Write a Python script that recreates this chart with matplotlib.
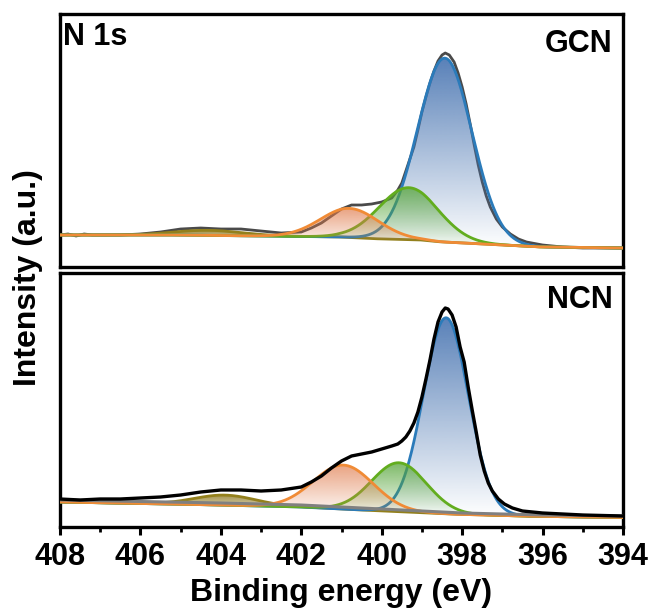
import numpy as np
import matplotlib.pyplot as plt
from matplotlib.colors import to_rgb
from matplotlib.ticker import MultipleLocator

plt.rcParams['font.family'] = ['Liberation Sans', 'DejaVu Sans']
plt.rcParams['font.weight'] = 'bold'

# GCN: measured N 1s spectrum (binding energy in eV, counts in a.u.)
gcn_be = [408.0, 407.8, 407.6, 407.4, 407.2, 407.0, 406.5, 406.0, 405.5, 405.0,
          404.5, 404.0, 403.5, 403.0, 402.5, 402.0, 401.75, 401.5, 401.25, 401.0,
          400.75, 400.5, 400.25, 400.0, 399.75, 399.6, 399.5, 399.4, 399.3, 399.2,
          399.1, 399.0, 398.9, 398.8, 398.7, 398.6, 398.5, 398.42, 398.32, 398.2,
          398.1, 398.0, 397.9, 397.8, 397.7, 397.6, 397.5, 397.4, 397.3, 397.15,
          397.0, 396.8, 396.6, 396.4, 396.0, 395.5, 395.0, 394.5, 394.0]
gcn_int = [32, 33, 31, 33, 32, 32, 32, 33, 35, 38,
           39, 38, 38, 36, 34, 35, 39, 44, 51, 58,
           62, 62, 63, 65, 69, 77, 84, 96, 108, 120,
           137, 155, 170, 184, 196, 206, 212, 214, 212, 205,
           194, 180, 163, 143, 122, 102, 85, 71, 60, 48,
           40, 33, 28, 25, 22, 20, 19, 19, 19]
# GCN: Shirley background
gcn_bg_be = [408.0, 405.0, 403.0, 401.0, 400.0, 399.0, 398.5, 398.0, 397.0, 396.0, 394.0]
gcn_bg = [32, 32, 31, 30, 28, 27, 25, 24, 22, 20, 19]
# GCN: fitted components (pi excitation, C-N=C, N-(C)3, C-N-H)
gcn_center = [404.3, 398.43, 399.33, 400.80]
gcn_fwhm = [2.0, 1.59, 1.74, 1.70]
gcn_height = [5, 184, 52, 29]

# NCN: measured N 1s spectrum
ncn_be = [408.0, 407.5, 407.0, 406.5, 406.0, 405.5, 405.0, 404.5, 404.0, 403.5,
          403.0, 402.5, 402.0, 401.75, 401.5, 401.25, 401.0, 400.75, 400.5, 400.25,
          400.0, 399.75, 399.6, 399.5, 399.4, 399.3, 399.2, 399.1, 399.0, 398.9,
          398.8, 398.7, 398.6, 398.5, 398.42, 398.35, 398.25, 398.15, 398.05, 397.95,
          397.85, 397.75, 397.65, 397.55, 397.45, 397.35, 397.25, 397.1, 396.95, 396.75,
          396.5, 396.0, 395.0, 394.0]
ncn_int = [28, 27, 28, 28, 29, 30, 32, 35, 37, 37,
           36, 37, 40, 45, 51, 59, 66, 71, 73, 75,
           78, 81, 83, 86, 90, 96, 104, 115, 130, 148,
           167, 188, 205, 215, 219, 218, 212, 200, 180, 165,
           140, 117, 95, 72, 56, 44, 36, 28, 23, 19,
           16, 14, 12, 11]
# NCN: background lines
ncn_bg_be = [408.0, 404.0, 402.0, 400.0, 398.0, 396.0, 394.0]
ncn_bg = [27, 24, 22, 18, 14, 12, 11]
ncn_fit_bg = [25, 22, 20, 16, 12.5, 10.5, 9.5]
# NCN: fitted components
ncn_center = [403.9, 398.40, 399.57, 400.95]
ncn_fwhm = [1.8, 1.32, 1.60, 1.75]
ncn_height = [10, 196, 49, 44]

line_colors = ['#93801c', '#2b7bba', '#62ad1e', '#f08b36']
fill_colors = ['#8a7417', '#4a76b2', '#56a53a', '#e07a4a']
fill_alpha = [0.8, 0.92, 0.78, 0.7]

energy = np.linspace(394, 408, 1401)


def gauss(x, c, fwhm, h):
    s = fwhm / 2.3548
    return h * np.exp(-0.5 * ((x - c) / s) ** 2)


def gradient_fill(ax, x, lo, hi, color, alpha, z):
    poly = ax.fill_between(x, lo, hi, facecolor='none', edgecolor='none', zorder=z)
    img = np.zeros((256, 1, 4))
    img[..., :3] = to_rgb(color)
    img[:, 0, 3] = np.linspace(0.0, alpha, 256)
    im = ax.imshow(img, origin='lower', aspect='auto', interpolation='bilinear',
                   extent=[x.min(), x.max(), lo.min(), hi.max()], zorder=z)
    im.set_clip_path(poly.get_paths()[0], transform=ax.transData)


def draw_components(ax, base, centers, fwhms, heights, z0=3):
    for i, (c, w, h) in enumerate(zip(centers, fwhms, heights)):
        comp = base + gauss(energy, c, w, h)
        gradient_fill(ax, energy, base, comp, fill_colors[i], fill_alpha[i], z0 + i)
        ax.plot(energy, comp, color=line_colors[i], lw=2.0, zorder=z0 + i + 0.5)


fig = plt.figure(figsize=(6.57, 6.10), dpi=100)
W, H = 657, 610
ax1 = fig.add_axes([60 / W, (H - 267) / H, 563 / W, 253 / H])
ax2 = fig.add_axes([60 / W, (H - 527) / H, 563 / W, 254 / H])

# GCN panel
ax1.plot(gcn_be, gcn_int, color='#4a4a4a', lw=2.0, zorder=2)
gbase = np.interp(energy, gcn_bg_be[::-1], gcn_bg[::-1])
draw_components(ax1, gbase, gcn_center, gcn_fwhm, gcn_height)
ax1.text(0.006, 0.877, 'N 1s', transform=ax1.transAxes, fontsize=22,
         ha='left', va='baseline')
ax1.text(0.982, 0.850, 'GCN', transform=ax1.transAxes, fontsize=22,
         ha='right', va='baseline')

# NCN panel
nbase = np.interp(energy, ncn_bg_be[::-1], ncn_fit_bg[::-1])
draw_components(ax2, nbase, ncn_center, ncn_fwhm, ncn_height)
ax2.plot(ncn_bg_be, ncn_bg, color='#808080', lw=2.2, zorder=9)
ax2.plot(ncn_be, ncn_int, color='black', lw=2.4, zorder=10)
ax2.text(0.982, 0.862, 'NCN', transform=ax2.transAxes, fontsize=22,
         ha='right', va='baseline')

ax1.set_ylim(0, 253)
ax2.set_ylim(0, 254)
for ax in (ax1, ax2):
    ax.set_xlim(408, 394)
    for sp in ax.spines.values():
        sp.set_linewidth(2.4)
    ax.tick_params(left=False, labelleft=False)

ax1.tick_params(bottom=False, labelbottom=False)
ax2.set_xticks(np.arange(394, 409, 2))
ax2.xaxis.set_minor_locator(MultipleLocator(1))
ax2.tick_params(axis='x', which='major', direction='out', length=6, width=2.2,
                labelsize=22, pad=5)
ax2.tick_params(axis='x', which='minor', direction='out', length=3.5, width=2.0)

fig.text(341 / W, 1 - 593 / H, 'Binding energy (eV)', fontsize=23,
         ha='center', va='center')
fig.text(28 / W, 1 - 278 / H, 'Intensity (a.u.)', fontsize=23, rotation=90,
         ha='center', va='center')

fig.savefig('out.png', dpi=100)
